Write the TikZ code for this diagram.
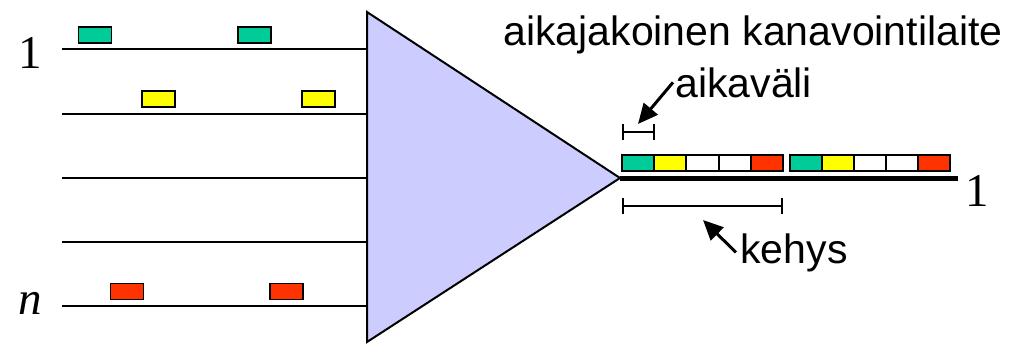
\documentclass[tikz,border=0pt]{standalone}
\usepackage{fontspec}
\setmainfont{Liberation Serif}
\setsansfont{Liberation Sans}
\usetikzlibrary{positioning,arrows.meta}

\definecolor{tdmteal}{RGB}{0,204,153}
\definecolor{tdmyellow}{RGB}{255,255,0}
\definecolor{tdmred}{RGB}{255,51,0}
\definecolor{muxfill}{RGB}{204,204,255}

\begin{document}
\begin{tikzpicture}[
  x=0.5pt, y=-0.5pt,
  font=\sffamily\fontsize{20.5}{24}\selectfont,
  wire/.style={draw=black, line width=1.2pt},
  mux/.style={draw=black, line width=1pt, fill=muxfill, line join=miter},
  trunk/.style={draw=black, line width=2.5pt},
  pkt/.style={rectangle, draw=black, line width=0.9pt, inner sep=0pt,
              minimum width=16.5pt, minimum height=8pt},
  slot/.style={rectangle, draw=black, line width=0.9pt, inner sep=0pt,
               minimum width=16pt, minimum height=8pt},
  span/.style={draw=black, line width=1pt, {Bar[width=8pt]}-{Bar[width=8pt]}},
  callout/.style={draw=black, line width=1.5pt, -{Triangle[length=10pt, width=9pt]}},
  lbl/.style={inner sep=0pt},
  numlbl/.style={inner sep=0pt, font=\rmfamily\fontsize{23.5}{26}\selectfont}
]
\useasboundingbox (0,0) rectangle (1023,344);

% input lines
\foreach \y [count=\i] in {49,114,178,242,306}
  \draw[wire] (62,\y) coordinate (in\i) -- (367,\y) coordinate (inend\i);

% multiplexer
\draw[mux] (367,12) coordinate (muxtop) -- (620,178) coordinate (muxout)
  -- (367,342) coordinate (muxbot) -- cycle;

% packets on the inputs
\node[pkt, fill=tdmteal] (p1a) at (95,35) {};
\node[pkt, fill=tdmteal] (p1b) at (254.5,35) {};
\node[pkt, fill=tdmyellow] (p2a) at (158.5,99) {};
\node[pkt, fill=tdmyellow] (p2b) at (318.5,99) {};
\node[pkt, fill=tdmred] (pna) at (127,291.5) {};
\node[pkt, fill=tdmred] (pnb) at (286.5,291.5) {};

\node[numlbl] (one) at (30,53) {1};
\node[numlbl, font=\rmfamily\itshape\fontsize{23.5}{26}\selectfont] (enn) at (30,303) {n};

% output link and frames
\draw[trunk] (muxout) -- (958,178) coordinate (outend);
\node[numlbl] (oneout) at (977,191) {1};

\foreach \c [count=\i] in {tdmteal,tdmyellow,white,white,tdmred} {
  \node[slot, fill=\c] (fa\i) at ({622+32.2*(\i-0.5)},163) {};
  \node[slot, fill=\c] (fb\i) at ({790+32*(\i-0.5)},163) {};
}

\draw[span] (622,132) coordinate (slotl) -- (655,132) coordinate (slotr);
\draw[span] (622,206) coordinate (framel) -- (783,206) coordinate (framer);

% labels
\node[lbl, anchor=base] (title) at (753,45) {aikajakoinen kanavointilaite};
\node[lbl, anchor=base west] (slotlbl) at (675,97) {aikaväli};
\node[lbl, anchor=base west] (framelbl) at (740,263) {kehys};

\coordinate (slottip) at (638,124);
\coordinate (frametip) at (703,220);
\draw[callout] ([xshift=-1pt]slotlbl.west) -- (slottip);
\draw[callout] ([xshift=-2pt]framelbl.west) -- (frametip);
\end{tikzpicture}
\end{document}
